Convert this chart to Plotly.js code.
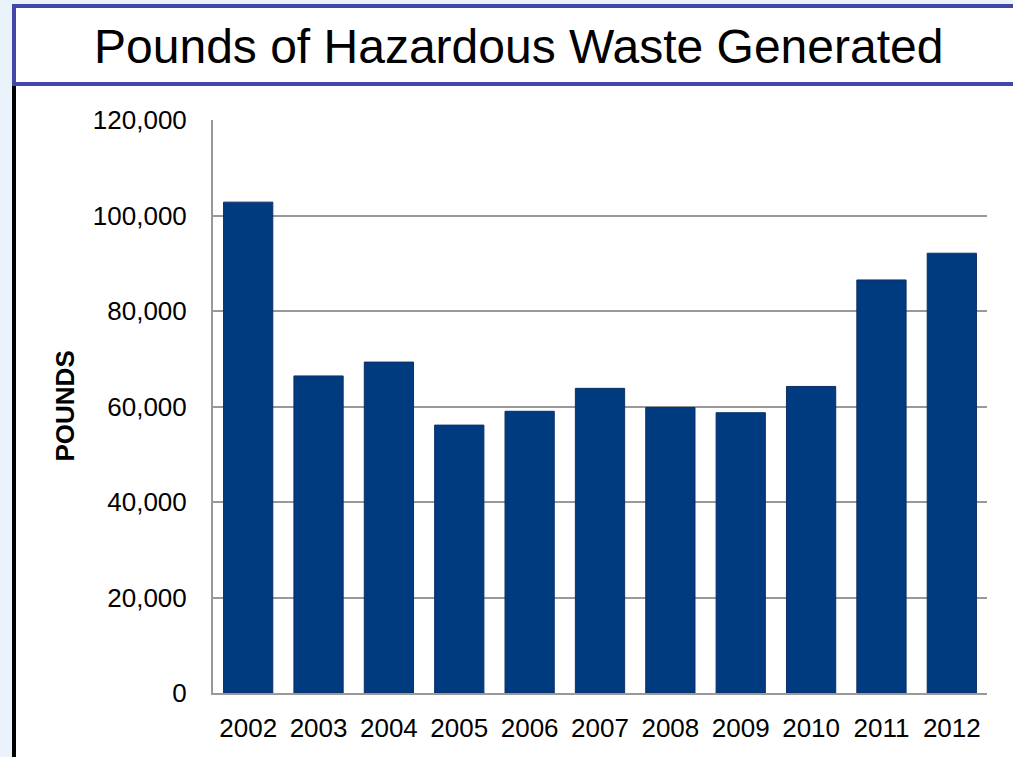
<!DOCTYPE html>
<html>
<head>
<meta charset="utf-8">
<script src="https://cdn.plot.ly/plotly-3.0.1.min.js"></script>
<style>
  html, body { margin: 0; padding: 0; width: 1013px; height: 757px; overflow: hidden; background: #EAF2FC; }
  #content { position: absolute; left: 16px; top: 86px; width: 1000px; height: 680px; background: #ffffff; }
  #vline { position: absolute; left: 12px; top: 84px; width: 4px; height: 680px; background: #000000; }
  #titlebox { position: absolute; left: 12px; top: 4px; width: 1010px; height: 74px; border: 4px solid #4348A8; background: #ffffff; }
  #chart { position: absolute; left: 0; top: 0; width: 1013px; height: 757px; }
</style>
</head>
<body>
<div id="content"></div>
<div id="vline"></div>
<div id="titlebox"></div>
<div id="chart"></div>
<script>
const years = ['2002','2003','2004','2005','2006','2007','2008','2009','2010','2011','2012'];
const pounds = [102800, 66400, 69300, 56100, 59000, 63800, 59800, 58700, 64200, 86500, 92100];
const chartTitle = 'Pounds of Hazardous Waste Generated';
const yLabel = 'POUNDS';

const trace = {
  type: 'bar',
  x: years,
  y: pounds,
  marker: { color: '#003B7F', line: { color: '#0B3068', width: 1 } },
  hoverinfo: 'x+y'
};

const layout = {
  width: 1013,
  height: 757,
  margin: { l: 213, r: 26, t: 120, b: 64 },
  paper_bgcolor: 'rgba(0,0,0,0)',
  plot_bgcolor: 'rgba(0,0,0,0)',
  font: { family: '"Liberation Sans", Arial, sans-serif', color: '#000000', size: 26 },
  bargap: 0.3,
  showlegend: false,
  title: {
    text: chartTitle,
    font: { size: 48, color: '#000000' },
    xref: 'paper', x: 0.395, xanchor: 'center',
    yref: 'container', y: 0.9386, yanchor: 'middle'
  },
  xaxis: {
    type: 'category',
    showgrid: false,
    showline: true,
    linecolor: '#999999',
    linewidth: 2,
    ticks: '',
    ticklabelstandoff: 11,
    tickfont: { size: 26 }
  },
  yaxis: {
    range: [0, 120000],
    dtick: 20000,
    tickformat: ',d',
    showgrid: true,
    gridcolor: '#999999',
    gridwidth: 2,
    showline: true,
    linecolor: '#999999',
    linewidth: 2,
    zeroline: false,
    ticks: '',
    ticklabelstandoff: 19,
    tickfont: { size: 26 }
  },
  annotations: [{
    text: '<b>' + yLabel + '</b>',
    xref: 'paper', yref: 'paper',
    x: -0.1925, y: 0.5,
    xanchor: 'center', yanchor: 'middle',
    textangle: -90,
    showarrow: false,
    font: { size: 26, color: '#000000' }
  }]
};

Plotly.newPlot('chart', [trace], layout, { displayModeBar: false, staticPlot: true });
</script>
</body>
</html>
